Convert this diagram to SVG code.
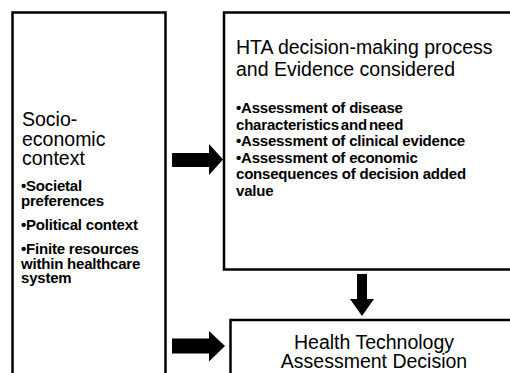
<svg xmlns="http://www.w3.org/2000/svg" width="510" height="373" viewBox="0 0 510 373">
<style>
.box{fill:#fff;stroke:#000;stroke-width:2.5}
.arrow{fill:#000}
.h{font-family:"Liberation Sans",Arial,sans-serif;font-size:19.5px;fill:#000}
.b{font-family:"Liberation Sans",Arial,sans-serif;font-size:15px;font-weight:bold;fill:#000;letter-spacing:-0.2px}
</style>
<rect width="510" height="373" fill="#fff"/>
<g id="socio">
<rect class="box" x="12.5" y="12.5" width="153" height="380"/>
<text class="h" x="22" y="126">Socio-</text>
<text class="h" x="22" y="145.5">economic</text>
<text class="h" x="22" y="165">context</text>
<text class="b" x="21" y="191">•Societal</text>
<text class="b" x="21" y="206">preferences</text>
<text class="b" x="21" y="230">•Political context</text>
<text class="b" x="21" y="254">•Finite resources</text>
<text class="b" x="21" y="269">within healthcare</text>
<text class="b" x="21" y="283">system</text>
</g>
<g id="hta">
<rect class="box" x="224" y="12.5" width="300" height="257"/>
<text class="h" x="236" y="54">HTA decision-making  process</text>
<text class="h" x="236" y="75.5">and Evidence considered</text>
<text class="b" x="236" y="113">•Assessment of disease</text>
<text class="b" x="236" y="129.5" word-spacing="-2">characteristics and need</text>
<text class="b" x="236" y="146">•Assessment of clinical evidence</text>
<text class="b" x="236" y="162.5">•Assessment of economic</text>
<text class="b" x="236" y="179">consequences of decision added</text>
<text class="b" x="236" y="195.5">value</text>
</g>
<g id="decision">
<rect class="box" x="230.5" y="320" width="290" height="80"/>
<text class="h" x="374" y="348.5" text-anchor="middle">Health Technology</text>
<text class="h" x="374" y="368" text-anchor="middle">Assessment Decision</text>
</g>
<g id="connectors">
<polygon class="arrow" points="172,153 209,153 209,144 223,159.5 209,175 209,167 172,167"/>
<polygon class="arrow" points="172,338.5 209,338.5 209,331 225,346 209,361.5 209,353.5 172,353.5"/>
<polygon class="arrow" points="357,274 367,274 367,299 374,299 362,316 350,299 357,299"/>
</g>
</svg>
